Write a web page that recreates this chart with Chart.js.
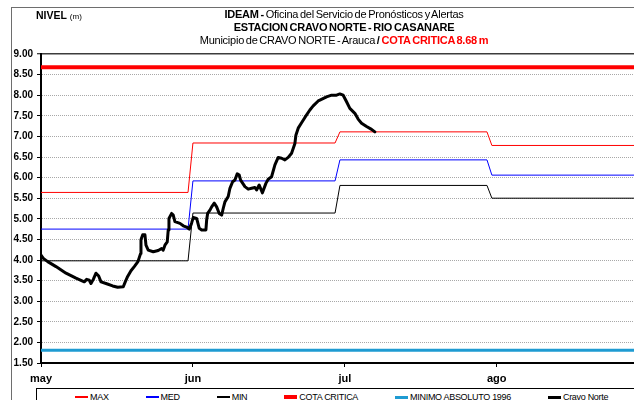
<!DOCTYPE html>
<html>
<head>
<meta charset="utf-8">
<script src="https://cdn.jsdelivr.net/npm/chart.js@4.4.1/dist/chart.umd.min.js"></script>
<style>
  html, body { margin: 0; padding: 0; background: #fff; }
  body { width: 634px; height: 400px; overflow: hidden; position: relative; }
  #frame { position: absolute; left: 11px; top: 7px; width: 700px; height: 500px;
           border-left: 1px solid #6e6e6e; border-top: 1px solid #6e6e6e; }
  #c { position: absolute; left: 0; top: 0; }
  .narrow { font-family: 'Liberation Sans Narrow', 'Arial Narrow', 'Liberation Sans', Arial, sans-serif; }
  #hdr { position: absolute; left: 144px; top: 8px; width: 400px; text-align: center;
         font-size: 11px; line-height: 13px; color: #000; letter-spacing: -0.25px; word-spacing: -1px; }
  #unit { position: absolute; left: 36px; top: 9px; font-size: 10.5px; line-height: 12px; color: #000; }
  #legend { position: absolute; left: 36px; top: 388px; width: 700px; height: 24px;
            border: 1px solid #000; background: #fff; }
  #legend .items { position: absolute; left: 38px; top: 2px; display: flex; gap: 37px;
                   font-size: 9px; line-height: 12px; white-space: nowrap; letter-spacing: -0.3px; }
  #legend .item { display: flex; align-items: center; }
  #legend .sw { width: 13px; margin-right: 2px; }
</style>
</head>
<body>
<div id="frame"></div>
<canvas id="c" width="634" height="400"></canvas>
<div id="unit" class="narrow"><b>NIVEL</b> <span style="font-size:8px">(m)</span></div>
<div id="hdr" class="narrow">
  <div><b>IDEAM -</b> Oficina del Servicio de Pronósticos y Alertas</div>
  <div><b>ESTACION CRAVO NORTE - RIO CASANARE</b></div>
  <div>Municipio de CRAVO NORTE - Arauca <b>/</b> <b id="cotaTxt" style="color:#ff0000"></b></div>
</div>
<div id="legend" class="narrow"><div class="items"></div></div>
<script>
// Axis: days counted from 1 May; month ticks every 31 days
const monthLabels   = ['may', 'jun', 'jul', 'ago'];
const monthTickDays = [0, 31, 62, 93];
const monthStartDays = [0, 31, 61, 92];
const lastDay = 121;

// Monthly reference levels (m)
const maxLevels = [5.64, 6.84, 7.11, 6.78];
const medLevels = [4.75, 5.92, 6.43, 6.06];
const minLevels = [3.98, 5.14, 5.81, 5.50];
const cotaCritica = 8.68;
const minimoAbsoluto = 1.81;

// Observed level at Cravo Norte station
const obsDays = [0, 0.47, 1.37, 3.06, 5.10, 7.14, 8.83, 9.32, 9.85, 10.20, 10.67, 11.22, 11.77, 12.24,
  13.26, 14.62, 15.64, 16.79, 17.19, 17.68, 18.36, 19.03, 19.78, 20.33, 20.40, 20.74, 21.21, 21.42,
  21.88, 22.90, 23.92, 24.62, 24.94, 25.29, 25.76, 25.96, 26.11, 26.66, 26.98, 27.33, 28.35, 29.02,
  29.72, 30.25, 30.74, 31.06, 31.76, 32.29, 32.78, 33.65, 33.80, 34.00, 34.47, 34.82, 35.35, 35.84,
  36.37, 36.86, 37.18, 37.53, 38.20, 38.55, 39.10, 39.57, 40.04, 40.45, 40.73, 41.61, 42.28, 42.97,
  43.65, 43.99, 44.52, 45.18, 45.89, 46.36, 47.05, 47.73, 48.40, 49.09, 49.77, 50.44, 51.13, 51.81,
  52.01, 52.48, 53.17, 53.85, 54.86, 55.54, 56.56, 56.90, 58.27, 59.29, 60.31, 60.98, 61.66, 62.35,
  63.02, 64.04, 64.71, 65.41, 66.43, 67.45, 68.12];
const obsLevels = [4.12, 4.04, 3.96, 3.84, 3.68, 3.56, 3.47, 3.53, 3.51, 3.43, 3.53, 3.68, 3.61, 3.47,
  3.43, 3.37, 3.34, 3.35, 3.47, 3.60, 3.74, 3.84, 3.96, 4.16, 4.49, 4.61, 4.61, 4.36,
  4.24, 4.20, 4.23, 4.28, 4.24, 4.36, 4.44, 4.73, 5.01, 5.13, 5.09, 4.93, 4.89, 4.83,
  4.80, 4.75, 4.90, 5.03, 5.01, 4.77, 4.73, 4.73, 4.97, 5.13, 5.21, 5.29, 5.38, 5.29,
  5.13, 5.09, 5.25, 5.41, 5.54, 5.74, 5.90, 5.94, 6.09, 6.06, 5.94, 5.78, 5.72, 5.74,
  5.76, 5.70, 5.82, 5.63, 5.86, 5.96, 6.02, 6.31, 6.49, 6.47, 6.43, 6.49, 6.59, 6.83,
  7.03, 7.20, 7.33, 7.46, 7.64, 7.74, 7.86, 7.88, 7.96, 8.00, 8.00, 8.03, 8.00, 7.84,
  7.68, 7.56, 7.42, 7.32, 7.24, 7.17, 7.11];

// One flat segment per month, changing on the first day of the next month
function monthlySteps(levels) {
  const pts = [];
  levels.forEach((v, i) => {
    const start = monthStartDays[i];
    const end = i + 1 < monthStartDays.length ? monthStartDays[i + 1] - 1 : lastDay;
    pts.push({ x: start, y: v }, { x: end, y: v });
  });
  return pts;
}
const flat = v => [{ x: 0, y: v }, { x: lastDay, y: v }];

const datasets = [
  { label: 'MAX', data: monthlySteps(maxLevels), borderColor: '#ff0000', borderWidth: 1, order: 5 },
  { label: 'MED', data: monthlySteps(medLevels), borderColor: '#0000ff', borderWidth: 1, order: 4 },
  { label: 'MIN', data: monthlySteps(minLevels), borderColor: '#000000', borderWidth: 1, order: 3 },
  { label: 'COTA CRITICA', data: flat(cotaCritica), borderColor: '#ff0000', borderWidth: 4, order: 2 },
  { label: 'MINIMO ABSOLUTO 1996', data: flat(minimoAbsoluto), borderColor: '#1e9bd2', borderWidth: 3, order: 1 },
  { label: 'Cravo Norte', data: obsDays.map((d, i) => ({ x: d, y: obsLevels[i] })),
    borderColor: '#000000', borderWidth: 3, borderJoinStyle: 'round', borderCapStyle: 'round', order: 0 }
];

document.getElementById('cotaTxt').textContent = 'COTA CRITICA ' + cotaCritica.toFixed(2) + ' m';

const tickFont = { family: "'Liberation Sans', Arial, sans-serif", weight: 'bold' };

const chart = new Chart(document.getElementById('c'), {
  type: 'line',
  data: { datasets },
  options: {
    responsive: false,
    animation: false,
    devicePixelRatio: 1,
    layout: { padding: { top: 54, left: 0, right: 0, bottom: 0 } },
    elements: { point: { radius: 0 }, line: { tension: 0, fill: false } },
    plugins: { legend: { display: false }, title: { display: false }, tooltip: { enabled: false } },
    scales: {
      x: {
        type: 'linear', min: 0, max: lastDay,
        afterBuildTicks: s => { s.ticks = monthTickDays.map(v => ({ value: v })); },
        afterFit: s => { s.height = 37; },
        ticks: {
          autoSkip: false, maxRotation: 0, padding: 5, color: '#000',
          font: { ...tickFont, size: 11 },
          callback: v => monthLabels[monthTickDays.indexOf(v)]
        },
        grid: { drawOnChartArea: false, drawTicks: true, tickLength: 4, tickColor: '#000' },
        border: { display: true, color: '#000', width: 2 }
      },
      y: {
        min: 1.5, max: 9,
        afterFit: s => { s.width = 41; },
        ticks: { stepSize: 0.5, padding: 4, color: '#000', font: { ...tickFont, size: 10 },
                 callback: v => v.toFixed(2) },
        grid: {
          color: c => (c.tick && c.tick.value === 9) ? '#3c3c3c' : '#a8a8a8',
          lineWidth: c => (c.tick && c.tick.value === 9) ? 1.5 : 1,
          tickLength: 4, tickColor: '#000', tickWidth: 1, tickBorderDash: []
        },
        border: { display: true, color: '#000', width: 2,
                  dash: c => (c.tick && c.tick.value === 9) ? [] : [1, 1] }
      }
    }
  }
});

// Legend built from the chart's own datasets
const items = document.querySelector('#legend .items');
chart.data.datasets.forEach(ds => {
  const it = document.createElement('div');
  it.className = 'item';
  const sw = document.createElement('span');
  sw.className = 'sw';
  sw.style.height = Math.max(1.5, ds.borderWidth) + 'px';
  sw.style.background = ds.borderColor;
  const tx = document.createElement('span');
  tx.textContent = ds.label;
  it.appendChild(sw); it.appendChild(tx);
  items.appendChild(it);
});
</script>
</body>
</html>
